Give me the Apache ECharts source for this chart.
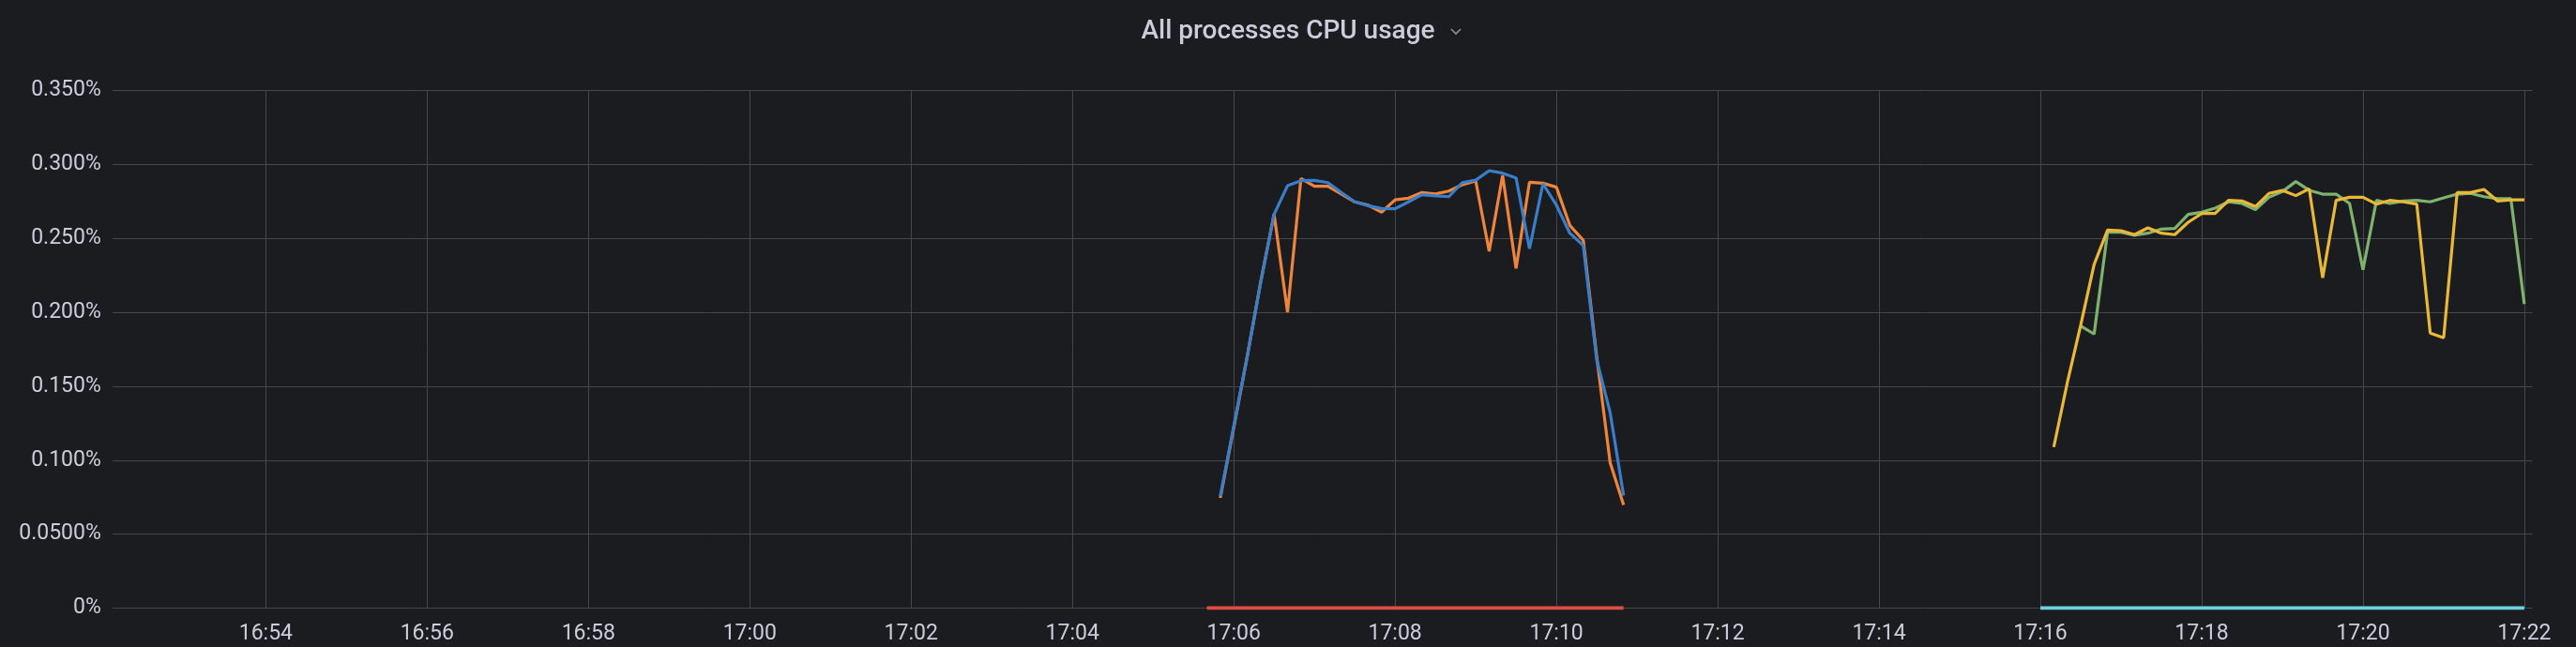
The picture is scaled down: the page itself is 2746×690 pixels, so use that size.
<!DOCTYPE html>
<html><head><meta charset="utf-8">
<script src="https://cdn.jsdelivr.net/npm/echarts@6/dist/echarts.min.js"></script>
<style>html,body{margin:0;padding:0;background:#1b1c20;}#c{width:2746px;height:690px;}</style>
</head><body><div id="c"></div>
<script>
const chartTitle = "All processes CPU usage";

const xMin = "16:52:00";   // axis start (multiple of the 2-min interval)
const xMax = "17:22:06";
const xTickLabels = ["16:54","16:56","16:58","17:00","17:02","17:04","17:06","17:08","17:10","17:12","17:14","17:16","17:18","17:20","17:22"];
const yTicks = [0, 0.05, 0.10, 0.15, 0.20, 0.25, 0.30, 0.35];
const yTickLabels = ["0%","0.0500%","0.100%","0.150%","0.200%","0.250%","0.300%","0.350%"];

// first run: orange / blue (10 s samples)
const timesA = ["17:05:50","17:06:00","17:06:10","17:06:20","17:06:30","17:06:40","17:06:50","17:07:00","17:07:10","17:07:20","17:07:30","17:07:40","17:07:50","17:08:00","17:08:10","17:08:20","17:08:30","17:08:40","17:08:50","17:09:00","17:09:10","17:09:20","17:09:30","17:09:40","17:09:50","17:10:00","17:10:10","17:10:20","17:10:30","17:10:40","17:10:50"];
const orangeValues = [0.0745,0.122,0.170,0.2205,0.2665,0.2001,0.2905,0.2852,0.2852,0.2800,0.2747,0.2725,0.2677,0.2761,0.2772,0.2810,0.2800,0.2820,0.2863,0.2888,0.2413,0.2926,0.2297,0.2880,0.2873,0.2846,0.2588,0.2487,0.1700,0.0983,0.0698];
const blueValues = [0.0757,0.1228,0.170,0.2197,0.2662,0.2856,0.2890,0.2892,0.2877,0.2810,0.2747,0.2721,0.2702,0.2700,0.2747,0.2795,0.2787,0.2782,0.2877,0.2894,0.2958,0.2941,0.2909,0.2430,0.2869,0.2725,0.2535,0.2451,0.1680,0.1321,0.0761];
const redTimes = ["17:05:40","17:05:50","17:06:00","17:06:10","17:06:20","17:06:30","17:06:40","17:06:50","17:07:00","17:07:10","17:07:20","17:07:30","17:07:40","17:07:50","17:08:00","17:08:10","17:08:20","17:08:30","17:08:40","17:08:50","17:09:00","17:09:10","17:09:20","17:09:30","17:09:40","17:09:50","17:10:00","17:10:10","17:10:20","17:10:30","17:10:40","17:10:50"];
const redValues = [0,0,0,0,0,0,0,0,0,0,0,0,0,0,0,0,0,0,0,0,0,0,0,0,0,0,0,0,0,0,0,0];

// second run: green / yellow
const greenTimes = ["17:16:30","17:16:40","17:16:50","17:17:00","17:17:10","17:17:20","17:17:30","17:17:40","17:17:50","17:18:00","17:18:10","17:18:20","17:18:30","17:18:40","17:18:50","17:19:00","17:19:10","17:19:20","17:19:30","17:19:40","17:19:50","17:20:00","17:20:10","17:20:20","17:20:30","17:20:40","17:20:50","17:21:00","17:21:10","17:21:20","17:21:30","17:21:40","17:21:50","17:22:00"];
const greenValues = [0.1908,0.1853,0.2542,0.2542,0.2521,0.2535,0.2563,0.2567,0.2662,0.2677,0.2704,0.2747,0.2736,0.2694,0.2778,0.2816,0.2884,0.2825,0.2799,0.2799,0.2736,0.2288,0.2757,0.2736,0.2753,0.2757,0.2747,0.2774,0.2799,0.2804,0.2782,0.2768,0.2768,0.2056];
const yellowTimes = ["17:16:10","17:16:20","17:16:30","17:16:40","17:16:50","17:17:00","17:17:10","17:17:20","17:17:30","17:17:40","17:17:50","17:18:00","17:18:10","17:18:20","17:18:30","17:18:40","17:18:50","17:19:00","17:19:10","17:19:20","17:19:30","17:19:40","17:19:50","17:20:00","17:20:10","17:20:20","17:20:30","17:20:40","17:20:50","17:21:00","17:21:10","17:21:20","17:21:30","17:21:40","17:21:50","17:22:00"];
const yellowValues = [0.1089,0.1522,0.1912,0.2324,0.2556,0.2552,0.2525,0.2571,0.2535,0.2525,0.2609,0.2668,0.2668,0.2757,0.2753,0.2715,0.2804,0.2825,0.2789,0.2835,0.2233,0.2757,0.2778,0.2778,0.2732,0.2757,0.2747,0.2732,0.1860,0.1828,0.2810,0.2810,0.2831,0.2753,0.2761,0.2761];
const cyanTimes = ["17:16:00","17:16:10","17:16:20","17:16:30","17:16:40","17:16:50","17:17:00","17:17:10","17:17:20","17:17:30","17:17:40","17:17:50","17:18:00","17:18:10","17:18:20","17:18:30","17:18:40","17:18:50","17:19:00","17:19:10","17:19:20","17:19:30","17:19:40","17:19:50","17:20:00","17:20:10","17:20:20","17:20:30","17:20:40","17:20:50","17:21:00","17:21:10","17:21:20","17:21:30","17:21:40","17:21:50","17:22:00"];
const cyanValues = [0,0,0,0,0,0,0,0,0,0,0,0,0,0,0,0,0,0,0,0,0,0,0,0,0,0,0,0,0,0,0,0,0,0,0,0,0];

function toSec(s){ const p = s.split(':').map(Number); return p[0]*3600 + p[1]*60 + (p[2]||0); }
function pairs(times, vals){ return times.map((t,i)=>[toSec(t), vals[i]]); }
function fmtTime(v){ const h=Math.floor(v/3600), m=Math.floor((v%3600)/60); return String(h).padStart(2,'0')+':'+String(m).padStart(2,'0'); }

const BG = '#1b1c20';
const textColor = '#ccccdc';
const gridColor = '#45464b';
const FONT = 'Roboto';

const chart = echarts.init(document.getElementById('c'), null, {renderer:'canvas'});
function mk(name, times, vals, color, w){
  return {name, type:'line', data:pairs(times, vals), showSymbol:false, symbol:'none',
    lineStyle:{width:w, color}, itemStyle:{color}, silent:true, animation:false, z:3};
}
chart.setOption({
  backgroundColor:BG,
  animation:false,
  title:{text:chartTitle, left:'center', top:15,
    textStyle:{color:textColor, fontSize:28, fontWeight:500, fontFamily:FONT}},
  graphic:[
    {type:'polyline', shape:{points:[[1547,31],[1552,36],[1557,31]]},
      style:{stroke:'#8e8e9a', lineWidth:1.6, fill:null}},
    // the panel's plot area begins at 16:52:06; cover the 6 s before it
    {type:'rect', shape:{x:110, y:90, width:10, height:565}, style:{fill:BG}, z:100}
  ],
  grid:{left:111.4, right:46.5, top:96.5, bottom:41.5, containLabel:false},
  xAxis:{type:'value', min:toSec(xMin), max:toSec(xMax), interval:120,
    axisLine:{show:false}, axisTick:{show:false},
    splitLine:{show:true, showMinLine:false, showMaxLine:false, lineStyle:{color:gridColor, width:1}},
    axisLabel:{color:textColor, fontSize:23, fontFamily:FONT, margin:16,
      showMinLabel:false, showMaxLabel:false,
      formatter:v=>{ const s=fmtTime(v); return (v%60===0 && xTickLabels.indexOf(s)>=0) ? s : ''; }}},
  yAxis:{type:'value', min:yTicks[0], max:yTicks[yTicks.length-1], interval:0.05,
    axisLine:{show:false}, axisTick:{show:false},
    splitLine:{show:true, lineStyle:{color:gridColor, width:1}},
    axisLabel:{color:textColor, fontSize:23, fontFamily:FONT, margin:3.6,
      formatter:v=>{ let best=0; yTicks.forEach((t,i)=>{ if(Math.abs(t-v)<Math.abs(yTicks[best]-v)) best=i; }); return yTickLabels[best]; }}},
  series:[
    mk('green', greenTimes, greenValues, '#7EB26D', 3.2),
    mk('yellow', yellowTimes, yellowValues, '#EAB839', 3.2),
    mk('cyan', cyanTimes, cyanValues, '#6ED0E0', 4),
    mk('orange', timesA, orangeValues, '#EF843C', 3.2),
    mk('red', redTimes, redValues, '#E24D42', 4),
    mk('blue', timesA, blueValues, '#3A7DC9', 3.2)
  ]
});
</script></body></html>
